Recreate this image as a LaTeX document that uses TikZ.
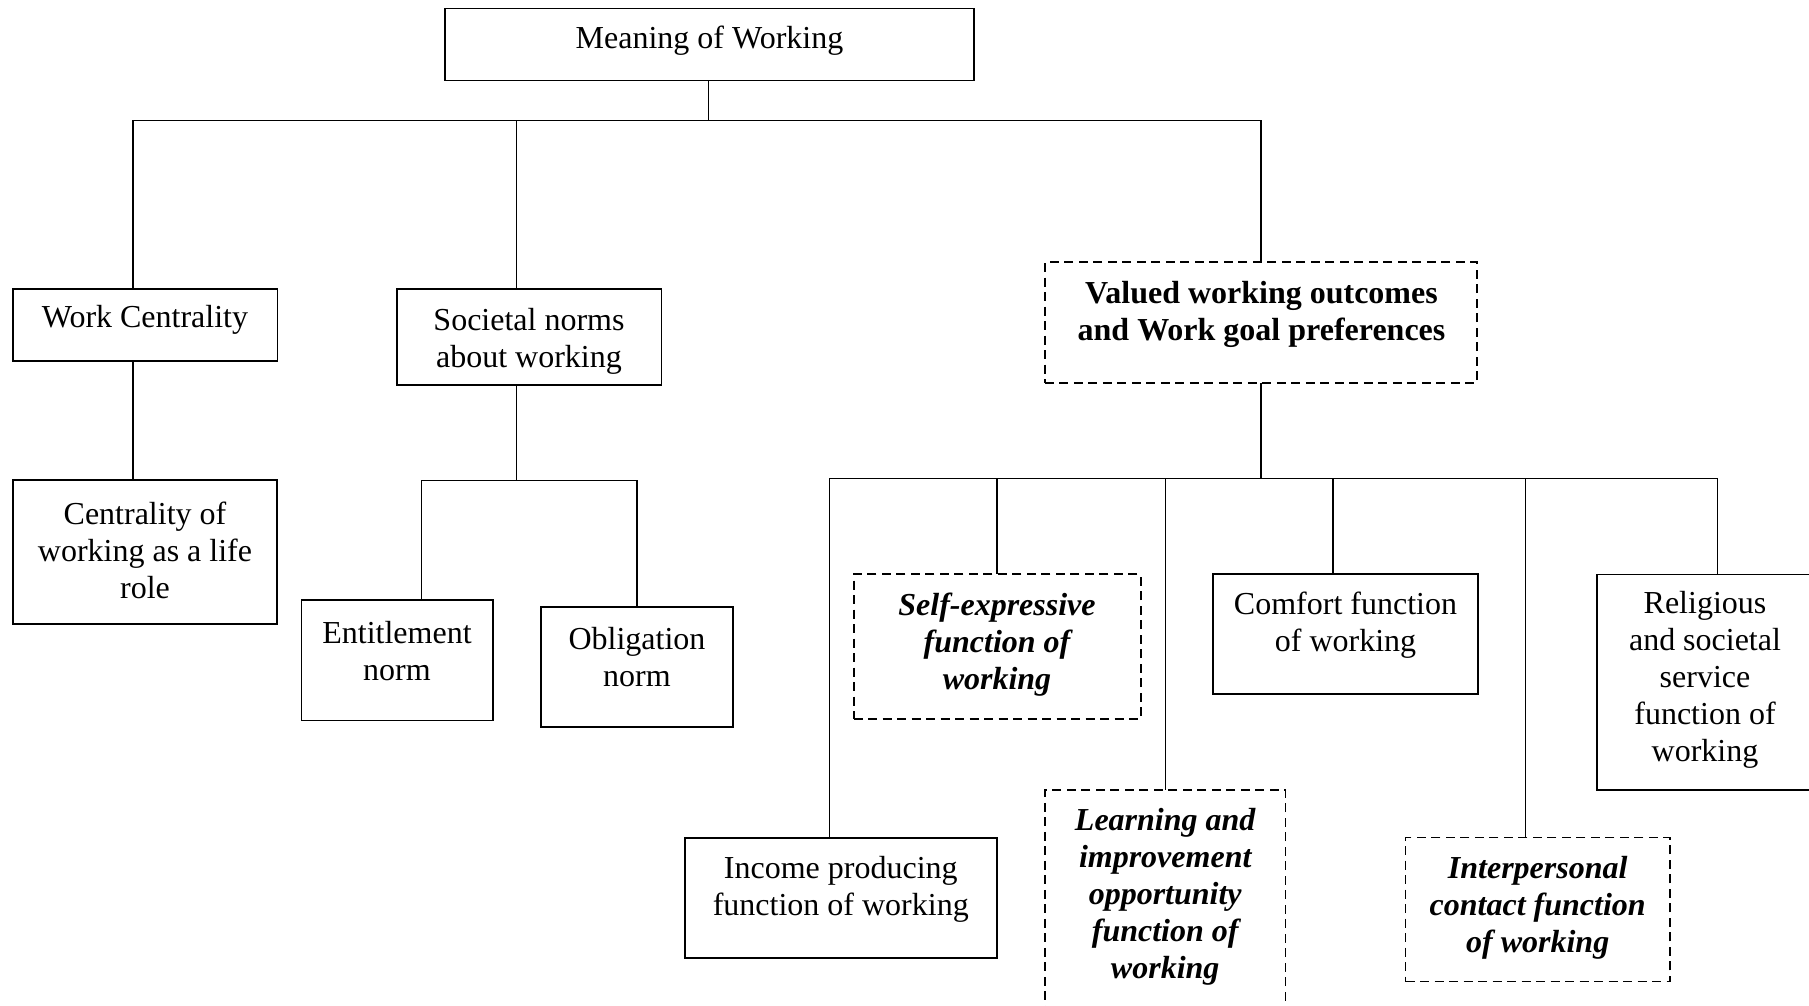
\documentclass[tikz,border=0pt]{standalone}
\usepackage{fontspec}
\setmainfont{Liberation Serif}
\begin{document}
\begin{tikzpicture}[x=1pt,y=-1pt,
  box/.style={draw, line width=1.8pt, rectangle, inner sep=0pt, outer sep=0pt, anchor=north west},
  dbox/.style={box, dash pattern=on 9pt off 5.5pt},
  txt/.style={align=center, inner sep=0pt, font=\fontsize{32}{37}\selectfont},
  btxt/.style={txt, font=\fontsize{32}{37}\selectfont\bfseries},
  itxt/.style={txt, font=\fontsize{32}{37}\selectfont\bfseries\itshape},
  link/.style={line width=1.5pt}]
\useasboundingbox (0,0) rectangle (1809,1005);
\clip (0,0) rectangle (1809,1005);

% boxes
\node[box, minimum width=529pt, minimum height=72pt] (meaning) at (445,8.5) {};
\node[box, minimum width=264.6pt, minimum height=72pt] (workc) at (12.8,288.7) {};
\node[box, minimum width=264.7pt, minimum height=96.3pt] (soc) at (396.7,288.7) {};
\node[dbox, minimum width=432.4pt, minimum height=120.4pt] (valued) at (1044.9,262.3) {};
\node[box, minimum width=264.7pt, minimum height=143.8pt] (central) at (12.6,480.2) {};
\node[box, minimum width=191.7pt, minimum height=120.2pt] (entit) at (301.4,600.3) {};
\node[box, minimum width=192.2pt, minimum height=120pt] (oblig) at (540.8,606.6) {};
\node[box, minimum width=312pt, minimum height=120pt] (income) at (684.8,838) {};
\node[dbox, minimum width=287pt, minimum height=144.7pt] (selfexp) at (853.6,574.3) {};
\node[dbox, minimum width=240.6pt, minimum height=260pt] (learning) at (1044.9,790) {};
\node[box, minimum width=265pt, minimum height=120pt] (comfort) at (1213,574.3) {};
\node[box, minimum width=230pt, minimum height=215.5pt] (relig) at (1597.3,574.5) {};
\node[dbox, minimum width=264.4pt, minimum height=144pt] (interp) at (1405.5,837.5) {};

% labels
\node[txt] (meaning-t) at (709.5,41) {Meaning of Working};
\node[txt] (workc-t) at (145,320) {Work Centrality};
\node[txt] (soc-t) at (529,341) {Societal norms\\about working};
\node[btxt] (valued-t) at (1261.5,314) {Valued working outcomes\\and Work goal preferences};
\node[txt] (central-t) at (145,550) {Centrality of\\working as a life\\role};
\node[txt] (entit-t) at (397,651) {Entitlement\\norm};
\node[txt] (oblig-t) at (637,657) {Obligation\\norm};
\node[txt] (income-t) at (840.8,889) {Income producing\\function of working};
\node[itxt] (selfexp-t) at (997,645) {Self-expressive\\function of\\working};
\node[itxt] (learning-t) at (1165.2,897) {Learning and\\improvement\\opportunity\\function of\\working};
\node[txt] (comfort-t) at (1345.5,625) {Comfort function\\of working};
\node[txt] (relig-t) at (1705,680) {Religious\\and societal\\service\\function of\\working};
\node[itxt] (interp-t) at (1537.7,908) {Interpersonal\\contact function\\of working};

% top level bus
\coordinate (busM) at (708.5,120.7);
\coordinate (busL) at (133,120.7);
\coordinate (busS) at (516.6,120.7);
\coordinate (busR) at (1261.2,120.7);
\draw[link] (meaning.south -| busM) -- (busM);
\draw[link] (busL |- workc.north) -- (busL) -- (busR) -- (busR |- valued.north);
\draw[link] (busS) -- (busS |- soc.north);

% work centrality branch
\draw[link] (busL |- workc.south) -- (busL |- central.north);

% societal norms branch
\coordinate (normS) at (516.6,480.6);
\coordinate (normL) at (421.4,480.6);
\coordinate (normR) at (637.2,480.6);
\draw[link] (normS |- soc.south) -- (normS);
\draw[link] (normL |- entit.north) -- (normL) -- (normR) -- (normR |- oblig.north);

% valued outcomes branch
\coordinate (subV) at (1261.2,478.5);
\coordinate (sub1) at (829.5,478.5);
\coordinate (sub2) at (996.8,478.5);
\coordinate (sub3) at (1165.5,478.5);
\coordinate (sub4) at (1333,478.5);
\coordinate (sub5) at (1525.5,478.5);
\coordinate (sub6) at (1717.5,478.5);
\draw[link] (valued.south -| subV) -- (subV);
\draw[link] (sub1 |- income.north) -- (sub1) -- (sub6) -- (sub6 |- relig.north);
\draw[link] (sub2) -- (sub2 |- selfexp.north);
\draw[link] (sub3) -- (sub3 |- learning.north);
\draw[link] (sub4) -- (sub4 |- comfort.north);
\draw[link] (sub5) -- (sub5 |- interp.north);
\end{tikzpicture}
\end{document}
